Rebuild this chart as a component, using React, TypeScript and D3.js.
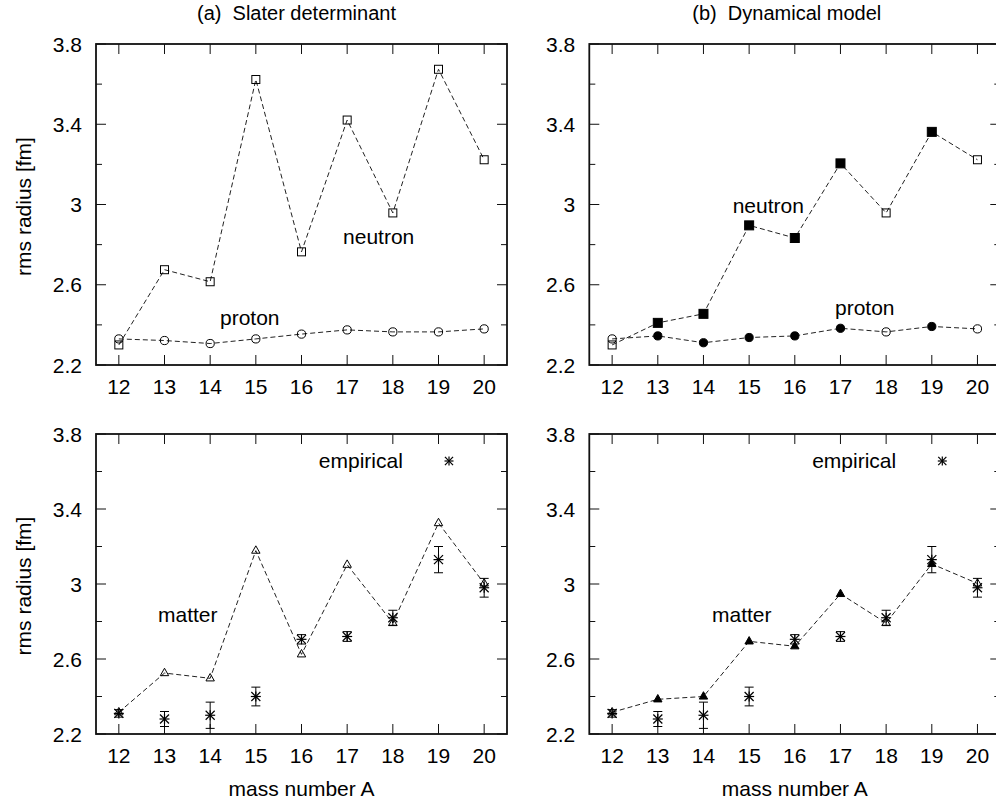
import React from "react";
import * as d3 from "d3";

// Mass numbers A on the x axis
const massNumbers = [12, 13, 14, 15, 16, 17, 18, 19, 20];

// (a) Slater determinant: rms radii [fm]
const neutronSD = [2.3, 2.675, 2.615, 3.623, 2.764, 3.421, 2.958, 3.674, 3.223];
const protonSD = [2.33, 2.322, 2.307, 2.33, 2.354, 2.375, 2.365, 2.365, 2.38];
const matterSD = [2.316, 2.525, 2.497, 3.178, 2.625, 3.103, 2.792, 3.325, 3.003];

// (b) Dynamical model: rms radii [fm]; open symbols where the model reduces to the Slater determinant
const neutronDyn = [2.3, 2.41, 2.455, 2.896, 2.833, 3.205, 2.958, 3.362, 3.223];
const protonDyn = [2.33, 2.345, 2.311, 2.337, 2.345, 2.383, 2.365, 2.392, 2.38];
const matterDyn = [2.316, 2.385, 2.4, 2.694, 2.668, 2.947, 2.792, 3.107, 3.003];
const dynFilled = [false, true, true, true, true, true, false, true, false];

// Empirical matter radii with uncertainties
const empirical = [2.31, 2.28, 2.3, 2.4, 2.705, 2.72, 2.82, 3.13, 2.98];
const empiricalErr = [0.02, 0.04, 0.07, 0.05, 0.025, 0.026, 0.04, 0.07, 0.05];

const yMajorTicks = [2.2, 2.6, 3.0, 3.4, 3.8];
const yMinorTicks = [2.4, 2.8, 3.2, 3.6];
const panelTitles = ["(a)  Slater determinant", "(b)  Dynamical model"];

const FONT = "'Liberation Sans', Arial, Helvetica, sans-serif";
const FS = 21;
const LINE = "#111";
const DASH = "5,3";

type Scale = d3.ScaleLinear<number, number>;

function Frame({ x, y, showXLabel }: { x: Scale; y: Scale; showXLabel: boolean }) {
  const [x0, x1] = x.range();
  const [y1, y0] = y.range();
  return (
    <g>
      {massNumbers.map((m) => (
        <g key={"xt" + m}>
          <line x1={x(m)} x2={x(m)} y1={y1} y2={y1 - 10} stroke={LINE} strokeWidth={1} />
          <line x1={x(m)} x2={x(m)} y1={y0} y2={y0 + 10} stroke={LINE} strokeWidth={1} />
          <text x={x(m)} y={y1 + 29} textAnchor="middle" fontSize={FS} fontFamily={FONT}>
            {m}
          </text>
        </g>
      ))}
      {yMajorTicks.map((v) => (
        <g key={"yt" + v}>
          <line x1={x0} x2={x0 + 10} y1={y(v)} y2={y(v)} stroke={LINE} strokeWidth={1} />
          <line x1={x1} x2={x1 - 10} y1={y(v)} y2={y(v)} stroke={LINE} strokeWidth={1} />
          <text x={x0 - 14} y={y(v) + 7.5} textAnchor="end" fontSize={FS} fontFamily={FONT}>
            {d3.format("~g")(v)}
          </text>
        </g>
      ))}
      {yMinorTicks.map((v) => (
        <g key={"ym" + v}>
          <line x1={x0} x2={x0 + 6} y1={y(v)} y2={y(v)} stroke={LINE} strokeWidth={1} />
          <line x1={x1} x2={x1 - 6} y1={y(v)} y2={y(v)} stroke={LINE} strokeWidth={1} />
        </g>
      ))}
      <rect x={x0} y={y0} width={x1 - x0} height={y1 - y0} fill="none" stroke={LINE} strokeWidth={1.8} />
      {showXLabel && (
        <text x={(x0 + x1) / 2} y={y1 + 62} textAnchor="middle" fontSize={FS} fontFamily={FONT}>
          mass number A
        </text>
      )}
      <text
        transform={`translate(${31}, ${(y0 + y1) / 2 + 2}) rotate(-90)`}
        textAnchor="middle"
        fontSize={FS}
        fontFamily={FONT}
        style={{ display: x0 < 300 ? "inline" : "none" }}
      >
        rms radius [fm]
      </text>
    </g>
  );
}

function DashedLine({ x, y, values }: { x: Scale; y: Scale; values: number[] }) {
  const gen = d3
    .line<number>()
    .x((_, i) => x(massNumbers[i]))
    .y((v) => y(v));
  return <path d={gen(values) || ""} fill="none" stroke="#222" strokeWidth={1} strokeDasharray={DASH} />;
}

function Square({ cx, cy, filled }: { cx: number; cy: number; filled: boolean }) {
  const s = filled ? 9 : 8;
  return (
    <rect
      x={cx - s / 2}
      y={cy - s / 2}
      width={s}
      height={s}
      fill={filled ? "#000" : "none"}
      stroke="#000"
      strokeWidth={1}
    />
  );
}

function Circle({ cx, cy, filled }: { cx: number; cy: number; filled: boolean }) {
  return <circle cx={cx} cy={cy} r={4.1} fill={filled ? "#000" : "none"} stroke="#000" strokeWidth={1} />;
}

function Triangle({ cx, cy, filled }: { cx: number; cy: number; filled: boolean }) {
  const pts = [
    [cx, cy - 4.8],
    [cx + 4.2, cy + 2.6],
    [cx - 4.2, cy + 2.6],
  ]
    .map((p) => p.join(","))
    .join(" ");
  return <polygon points={pts} fill={filled ? "#000" : "none"} stroke="#000" strokeWidth={1} />;
}

function Asterisk({ cx, cy, r = 5 }: { cx: number; cy: number; r?: number }) {
  const d = r * 0.9;
  return (
    <g stroke="#000" strokeWidth={1.2}>
      <line x1={cx - r} x2={cx + r} y1={cy} y2={cy} />
      <line x1={cx} x2={cx} y1={cy - r} y2={cy + r} />
      <line x1={cx - d} x2={cx + d} y1={cy - d} y2={cy + d} />
      <line x1={cx - d} x2={cx + d} y1={cy + d} y2={cy - d} />
    </g>
  );
}

function Empirical({ x, y }: { x: Scale; y: Scale }) {
  return (
    <g>
      {empirical.map((v, i) => {
        const cx = x(massNumbers[i]);
        const top = y(v + empiricalErr[i]);
        const bot = y(v - empiricalErr[i]);
        return (
          <g key={"e" + i}>
            <line x1={cx} x2={cx} y1={top} y2={bot} stroke="#000" strokeWidth={1} />
            <line x1={cx - 4.5} x2={cx + 4.5} y1={top} y2={top} stroke="#000" strokeWidth={1} />
            <line x1={cx - 4.5} x2={cx + 4.5} y1={bot} y2={bot} stroke="#000" strokeWidth={1} />
            <Asterisk cx={cx} cy={y(v)} />
          </g>
        );
      })}
      <text x={x(16.38)} y={y(3.617)} fontSize={FS} fontFamily={FONT}>
        empirical
      </text>
      <Asterisk cx={x(19.23)} cy={y(3.656)} r={4.5} />
    </g>
  );
}

export default function App() {
  const W = 996;
  const H = 805;
  const left = [96, 589.3];
  const pw = 411;
  const topY = [44, 365];
  const botY = [434, 734];
  const mk = (l: number) => d3.scaleLinear().domain([11.5, 20.5]).range([l, l + pw]);
  const yTop = d3.scaleLinear().domain([2.2, 3.8]).range([topY[1], topY[0]]);
  const yBot = d3.scaleLinear().domain([2.2, 3.8]).range([botY[1], botY[0]]);
  const xa = mk(left[0]);
  const xb = mk(left[1]);

  return (
    <svg
      width={W}
      height={H}
      viewBox={`0 0 ${W} ${H}`}
      style={{ position: "absolute", left: 0, top: 0, display: "block", background: "#fff" }}
    >
      <rect width={W} height={H} fill="#fff" />
      {/* panel titles */}
      <text x={xa(16) - 5} y={20} textAnchor="middle" fontSize={FS - 1} fontFamily={FONT} xmlSpace="preserve">
        {panelTitles[0]}
      </text>
      <text x={xb(16) - 8} y={20} textAnchor="middle" fontSize={FS - 1} fontFamily={FONT} xmlSpace="preserve">
        {panelTitles[1]}
      </text>

      {/* (a) top: neutron and proton radii */}
      <g>
        <Frame x={xa} y={yTop} showXLabel={false} />
        <DashedLine x={xa} y={yTop} values={neutronSD} />
        <DashedLine x={xa} y={yTop} values={protonSD} />
        {neutronSD.map((v, i) => (
          <Square key={"na" + i} cx={xa(massNumbers[i])} cy={yTop(v)} filled={false} />
        ))}
        {protonSD.map((v, i) => (
          <Circle key={"pa" + i} cx={xa(massNumbers[i])} cy={yTop(v)} filled={false} />
        ))}
        <text x={xa(16.91)} y={yTop(2.803)} fontSize={FS} fontFamily={FONT}>
          neutron
        </text>
        <text x={xa(14.215)} y={yTop(2.399)} fontSize={FS} fontFamily={FONT}>
          proton
        </text>
      </g>

      {/* (b) top: neutron and proton radii */}
      <g>
        <Frame x={xb} y={yTop} showXLabel={false} />
        <DashedLine x={xb} y={yTop} values={neutronDyn} />
        <DashedLine x={xb} y={yTop} values={protonDyn} />
        {neutronDyn.map((v, i) => (
          <Square key={"nb" + i} cx={xb(massNumbers[i])} cy={yTop(v)} filled={dynFilled[i]} />
        ))}
        {protonDyn.map((v, i) => (
          <Circle key={"pb" + i} cx={xb(massNumbers[i])} cy={yTop(v)} filled={dynFilled[i]} />
        ))}
        <text x={xb(14.64)} y={yTop(2.959)} fontSize={FS} fontFamily={FONT}>
          neutron
        </text>
        <text x={xb(16.88)} y={yTop(2.449)} fontSize={FS} fontFamily={FONT}>
          proton
        </text>
      </g>

      {/* (a) bottom: matter radii */}
      <g>
        <Frame x={xa} y={yBot} showXLabel={true} />
        <DashedLine x={xa} y={yBot} values={matterSD} />
        {matterSD.map((v, i) => (
          <Triangle key={"ma" + i} cx={xa(massNumbers[i])} cy={yBot(v)} filled={false} />
        ))}
        <Empirical x={xa} y={yBot} />
        <text x={xa(12.858)} y={yBot(2.799)} fontSize={FS} fontFamily={FONT}>
          matter
        </text>
      </g>

      {/* (b) bottom: matter radii */}
      <g>
        <Frame x={xb} y={yBot} showXLabel={true} />
        <DashedLine x={xb} y={yBot} values={matterDyn} />
        {matterDyn.map((v, i) => (
          <Triangle key={"mb" + i} cx={xb(massNumbers[i])} cy={yBot(v)} filled={dynFilled[i]} />
        ))}
        <Empirical x={xb} y={yBot} />
        <text x={xb(14.187)} y={yBot(2.799)} fontSize={FS} fontFamily={FONT}>
          matter
        </text>
      </g>
    </svg>
  );
}
